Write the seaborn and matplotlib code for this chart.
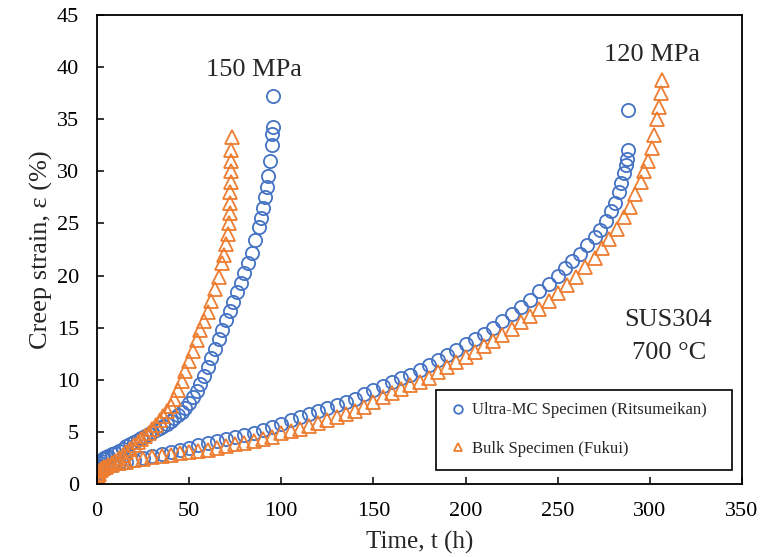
import matplotlib
matplotlib.use("Agg")
import matplotlib.pyplot as plt
import seaborn as sns
import pandas as pd

# ---- data ----
labels = ["Ultra-MC Specimen (Ritsumeikan)", "Bulk Specimen (Fukui)"]
colors = ["#4472C4", "#ED7D31"]

# Ultra-MC, 150 MPa
t_mc150 = [0, 0.3, 0.6, 1, 1.5, 2, 3, 4, 5, 6,
           8, 10, 12, 14, 16, 18, 20, 22, 24, 26,
           28, 30, 32, 34, 36, 38, 40, 42, 44, 46,
           48, 50, 52, 54, 56, 58, 60, 62, 64, 66,
           68, 70, 72, 74, 76, 78, 80, 82, 84, 86,
           88, 89, 90, 91, 92, 93, 94, 94.8, 95.2, 95.5,
           95.6]
e_mc150 = [0, 0.6, 1.2, 1.7, 2.0, 2.2, 2.4, 2.5, 2.6, 2.7,
           2.9, 3.0, 3.2, 3.4, 3.6, 3.8, 4.0, 4.2, 4.4, 4.6,
           4.8, 5.0, 5.2, 5.4, 5.6, 5.8, 6.0, 6.3, 6.6, 6.9,
           7.3, 7.8, 8.3, 8.9, 9.6, 10.4, 11.2, 12.1, 13.0, 13.9,
           14.8, 15.7, 16.6, 17.5, 18.4, 19.3, 20.2, 21.2, 22.2, 23.4,
           24.7, 25.5, 26.5, 27.5, 28.5, 29.6, 31.0, 32.5, 33.6, 34.3,
           37.2]

# Bulk, 150 MPa
t_bk150 = [0, 0.3, 0.6, 1, 2, 3, 4, 6, 8, 10,
           12, 14, 16, 18, 20, 22, 24, 26, 28, 30,
           32, 34, 36, 38, 40, 42, 44, 46, 48, 50,
           52, 54, 56, 58, 60, 62, 64, 66, 68, 69,
           70, 71, 71.5, 72, 72.2, 72.4, 72.6, 72.7, 72.8, 72.9,
           73]
e_bk150 = [0, 0.5, 0.9, 1.2, 1.4, 1.5, 1.6, 1.8, 2.0, 2.2,
           2.5, 2.8, 3.1, 3.4, 3.7, 4.0, 4.3, 4.6, 4.9, 5.3,
           5.7, 6.1, 6.5, 7.0, 7.5, 8.2, 9.0, 9.9, 10.8, 11.8,
           12.8, 13.8, 14.8, 15.6, 16.5, 17.6, 18.7, 19.9, 21.2, 22.0,
           23.0, 24.0, 25.0, 26.0, 27.0, 28.0, 29.0, 30.0, 31.0, 32.0,
           33.3]

# Ultra-MC, 120 MPa
t_mc120 = [0, 0.5, 1, 2, 3, 5, 8, 12, 16, 20,
           25, 30, 35, 40, 45, 50, 55, 60, 65, 70,
           75, 80, 85, 90, 95, 100, 105, 110, 115, 120,
           125, 130, 135, 140, 145, 150, 155, 160, 165, 170,
           175, 180, 185, 190, 195, 200, 205, 210, 215, 220,
           225, 230, 235, 240, 245, 250, 254, 258, 262, 266,
           270, 273, 276, 279, 281, 283, 284.5, 286, 287, 287.5,
           288, 288.3]
e_mc120 = [0, 0.7, 1.1, 1.4, 1.6, 1.7, 1.8, 2.0, 2.1, 2.3,
           2.5, 2.7, 2.9, 3.1, 3.3, 3.5, 3.7, 3.9, 4.1, 4.3,
           4.5, 4.7, 4.9, 5.2, 5.5, 5.8, 6.1, 6.4, 6.7, 7.0,
           7.3, 7.6, 7.9, 8.2, 8.6, 9.0, 9.4, 9.8, 10.2, 10.5,
           10.9, 11.4, 11.9, 12.4, 12.9, 13.4, 13.9, 14.4, 15.0, 15.6,
           16.3, 17.0, 17.7, 18.5, 19.2, 20.0, 20.7, 21.4, 22.1, 22.9,
           23.7, 24.4, 25.2, 26.2, 27.0, 28.0, 28.9, 29.8, 30.6, 31.2,
           32.0, 35.9]

# Bulk, 120 MPa
t_bk120 = [0, 0.5, 1, 2, 3, 5, 8, 12, 16, 20,
           25, 30, 35, 40, 45, 50, 55, 60, 65, 70,
           75, 80, 85, 90, 95, 100, 105, 110, 115, 120,
           125, 130, 135, 140, 145, 150, 155, 160, 165, 170,
           175, 180, 185, 190, 195, 200, 205, 210, 215, 220,
           225, 230, 235, 240, 245, 250, 255, 260, 265, 270,
           274, 278, 282, 286, 289, 292, 295, 297, 299, 301,
           302.5, 304, 305, 306, 306.8]
e_bk120 = [0, 0.6, 1.0, 1.3, 1.5, 1.6, 1.8, 2.0, 2.1, 2.3,
           2.4, 2.6, 2.7, 2.8, 3.0, 3.1, 3.2, 3.3, 3.5, 3.6,
           3.8, 3.9, 4.1, 4.3, 4.5, 4.9, 5.1, 5.3, 5.6, 5.9,
           6.1, 6.4, 6.7, 7.0, 7.4, 7.9, 8.3, 8.7, 9.1, 9.5,
           9.8, 10.2, 10.7, 11.2, 11.7, 12.2, 12.7, 13.2, 13.7, 14.3,
           14.9, 15.5, 16.1, 16.8, 17.6, 18.3, 19.1, 19.9, 20.8, 21.7,
           22.6, 23.5, 24.5, 25.6, 26.6, 27.8, 29.0, 30.0, 31.0, 32.2,
           33.5, 35.0, 36.2, 37.5, 38.8]

x_ticks = [0, 50, 100, 150, 200, 250, 300, 350]
y_ticks = [0, 5, 10, 15, 20, 25, 30, 35, 40, 45]

# ---- plotting ----
sns.set_style("white")
plt.rcParams["font.family"] = ["Liberation Serif", "DejaVu Serif"]
plt.rcParams["mathtext.fontset"] = "stix"

fig = plt.figure(figsize=(7.83, 5.57), dpi=100)
ax = fig.add_axes([97 / 783, 1 - 484 / 557, 645 / 783, 469 / 557])

series = [
    (t_mc150, e_mc150, 0, "o", labels[0]),
    (t_mc120, e_mc120, 0, "o", "_nolegend_"),
    (t_bk150, e_bk150, 1, "^", labels[1]),
    (t_bk120, e_bk120, 1, "^", "_nolegend_"),
]
for t, e, ci, mk, lab in series:
    df = pd.DataFrame({"t": t, "e": e})
    sns.lineplot(data=df, x="t", y="e", ax=ax, estimator=None, sort=False,
                 linestyle="none", marker=mk, markersize=9.5,
                 markerfacecolor="none", markeredgecolor=colors[ci],
                 markeredgewidth=1.3, color=colors[ci], label=lab)

ax.set_xlim(0, 350)
ax.set_ylim(0, 45)
ax.set_xticks(x_ticks)
ax.set_yticks(y_ticks)
ax.tick_params(axis="both", direction="in", length=5, width=1.1,
               labelsize=16, pad=13, color="black", labelcolor="black",
               bottom=True, left=True, top=False, right=False)
for sp in ax.spines.values():
    sp.set_color("black")
    sp.set_linewidth(1.3)

ax.set_xlabel("Time, t (h)", fontsize=18, labelpad=7)
ax.set_ylabel("Creep strain, ε (%)", fontsize=19, labelpad=3)

ax.text(85.2, 39.7, "150 MPa", fontsize=19, ha="center", va="center")
ax.text(301.1, 41.2, "120 MPa", fontsize=19, ha="center", va="center")
ax.text(310, 15.7, "SUS304", fontsize=19, ha="center", va="center")
ax.text(310.5, 12.6, "700 °C", fontsize=19, ha="center", va="center")

x0 = (436 - 97) / 645
y_top = (484 - 390) / 469
w = 296 / 645
leg = ax.legend(loc="upper left", bbox_to_anchor=(x0, y_top - 0.2, w, 0.2),
                mode="expand", borderaxespad=0, fontsize=12, frameon=True,
                fancybox=False, edgecolor="black", framealpha=1,
                markerscale=0.65, handlelength=1.1, handletextpad=0.3,
                labelspacing=1.35, borderpad=0.75)
leg.get_frame().set_linewidth(1.2)

fig.savefig("out.png", dpi=100)
